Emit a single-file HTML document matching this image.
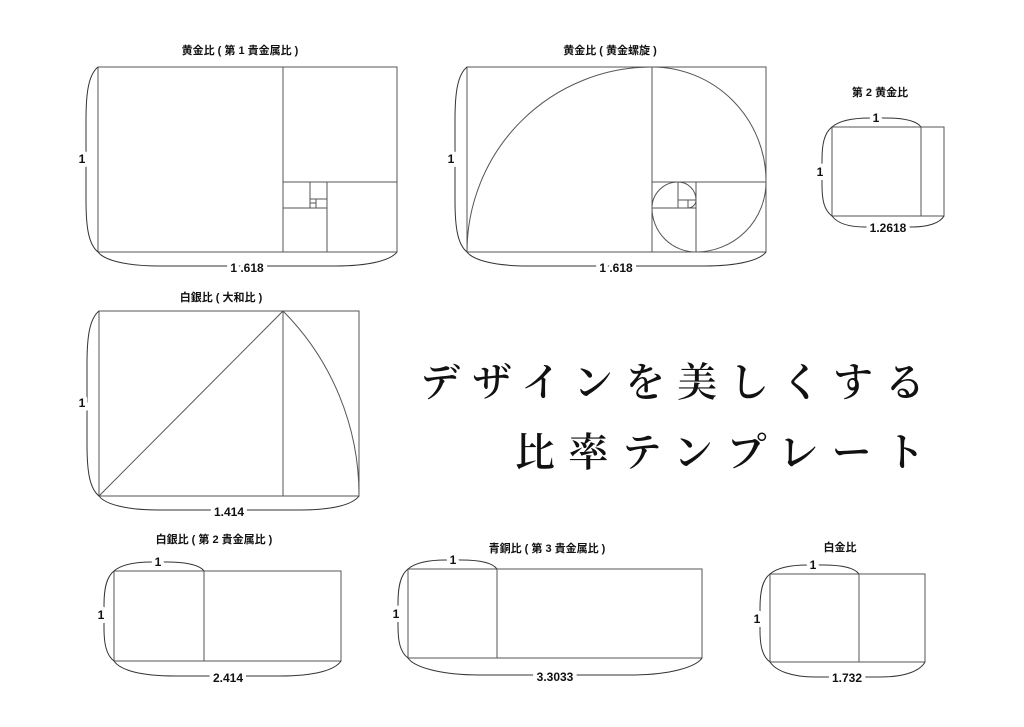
<!DOCTYPE html>
<html><head><meta charset="utf-8"><style>
html,body{margin:0;padding:0;background:#fff;}
svg{display:block;}
.r{fill:none;stroke:#555;stroke-width:1;}
.b{fill:none;stroke:#333;stroke-width:1;}
.t{font-family:"Liberation Sans","Noto Sans CJK JP",sans-serif;font-weight:bold;font-size:11px;fill:#111;text-anchor:middle;}
.l{font-family:"Liberation Sans","Noto Sans CJK JP",sans-serif;font-weight:bold;font-size:12px;fill:#111;text-anchor:middle;paint-order:stroke;stroke:#fff;stroke-width:8px;stroke-linejoin:round;}
.big{font-family:"Liberation Serif","Noto Serif CJK JP","Noto Serif CJK SC",serif;font-size:40px;font-weight:600;fill:#111;}
</style></head><body>
<svg width="1024" height="727" viewBox="0 0 1024 727" xmlns="http://www.w3.org/2000/svg">
<!-- D1 -->
<rect class="r" x="98" y="67" width="299" height="185"/>
<path class="r" d="M283,67V252 M283,182H397 M327,182V252 M283,208H327 M310,182V208 M310,199H327 M316,199V208 M310,203H316"/>
<path class="b" d="M98,67 C88,75 86,95 86,120 L86,200 C86,225 88,244 98,252"/>
<path class="b" d="M98,252 C104,260 125,266 160,266 L335,266 C370,266 391,260 397,252"/>
<text class="t" x="240" y="54">黄金比 ( 第 1 貴金属比 )</text>
<text class="l" x="82" y="163">1</text>
<text class="l" x="247" y="272">1 .618</text>
<!-- D2 -->
<rect class="r" x="467" y="67" width="299" height="185"/>
<path class="r" d="M652,67V252 M652,182H766 M696,182V252 M652,208H696 M678,182V208 M678,200H696 M688,200V208"/>
<path class="r" d="M467,252 A185,185 0 0 1 652,67 A114,114 0 0 1 766,182 A70,70 0 0 1 696,252 A44,44 0 0 1 652,208 A26,26 0 0 1 678,182 A18,18 0 0 1 696,200 A8,8 0 0 1 688,208"/>
<path class="b" d="M467,67 C457,75 455,95 455,120 L455,200 C455,225 457,244 467,252"/>
<path class="b" d="M467,252 C473,260 494,266 529,266 L704,266 C739,266 760,260 766,252"/>
<text class="t" x="610" y="54">黄金比 ( 黄金螺旋 )</text>
<text class="l" x="451" y="163">1</text>
<text class="l" x="616" y="272">1 .618</text>
<!-- D3 -->
<rect class="r" x="832" y="127" width="112" height="89"/>
<path class="r" d="M921,127V216"/>
<path class="b" d="M832,127 C840,120 855,118 870,118 L885,118 C900,118 916,120 921,127"/>
<path class="b" d="M832,127 C824,133 822,145 822,160 L822,185 C822,200 824,210 832,216"/>
<path class="b" d="M832,216 C838,224 850,227 865,227 L912,227 C928,227 940,223 944,216"/>
<text class="t" x="880" y="96">第 2 黄金比</text>
<text class="l" x="876" y="122">1</text>
<text class="l" x="820" y="176">1</text>
<text class="l" x="888" y="232">1.2618</text>
<!-- D4 -->
<rect class="r" x="99" y="311" width="260" height="185"/>
<path class="r" d="M283,311V496 M99,496L283,311 M283,311 A261,261 0 0 1 359,496"/>
<path class="b" d="M99,311 C89,319 87,339 87,364 L87,444 C87,469 89,488 99,496"/>
<path class="b" d="M99,496 C105,504 125,510 160,510 L300,510 C335,510 353,504 359,496"/>
<text class="t" x="221" y="301">白銀比 ( 大和比 )</text>
<text class="l" x="82" y="407">1</text>
<text class="l" x="229" y="516">1.414</text>
<!-- D5 -->
<rect class="r" x="114" y="571" width="227" height="90"/>
<path class="r" d="M204,571V661"/>
<path class="b" d="M114,571 C122,564 137,562 152,562 L167,562 C182,562 199,564 204,571"/>
<path class="b" d="M114,571 C106,577 104,590 104,605 L104,628 C104,643 106,655 114,661"/>
<path class="b" d="M114,661 C120,670 140,676 175,676 L280,676 C315,676 335,670 341,661"/>
<text class="t" x="214" y="543">白銀比 ( 第 2 貴金属比 )</text>
<text class="l" x="158" y="566">1</text>
<text class="l" x="101" y="619">1</text>
<text class="l" x="228" y="682">2.414</text>
<!-- D6 -->
<rect class="r" x="408" y="569" width="294" height="89"/>
<path class="r" d="M497,569V658"/>
<path class="b" d="M408,569 C416,562 431,560 446,560 L461,560 C476,560 492,562 497,569"/>
<path class="b" d="M408,569 C400,575 398,588 398,603 L398,626 C398,641 400,652 408,658"/>
<path class="b" d="M408,658 C414,667 440,675 480,675 L630,675 C670,675 696,667 702,658"/>
<text class="t" x="547" y="552">青銅比 ( 第 3 貴金属比 )</text>
<text class="l" x="453" y="564">1</text>
<text class="l" x="396" y="618">1</text>
<text class="l" x="555" y="681">3.3033</text>
<!-- D7 -->
<rect class="r" x="770" y="574" width="155" height="88"/>
<path class="r" d="M859,574V662"/>
<path class="b" d="M770,574 C778,567 793,565 808,565 L823,565 C838,565 854,567 859,574"/>
<path class="b" d="M770,574 C762,580 760,593 760,608 L760,630 C760,645 762,656 770,662"/>
<path class="b" d="M770,662 C776,671 792,677 815,677 L880,677 C905,677 920,671 925,662"/>
<text class="t" x="840" y="551">白金比</text>
<text class="l" x="813" y="569">1</text>
<text class="l" x="757" y="623">1</text>
<text class="l" x="847" y="682">1.732</text>
<!-- big title -->
<text class="big" x="420" y="396" textLength="505" lengthAdjust="spacing">デザインを美しくする</text>
<text class="big" x="515" y="466" textLength="410" lengthAdjust="spacing">比率テンプレート</text>
</svg>
</body></html>
